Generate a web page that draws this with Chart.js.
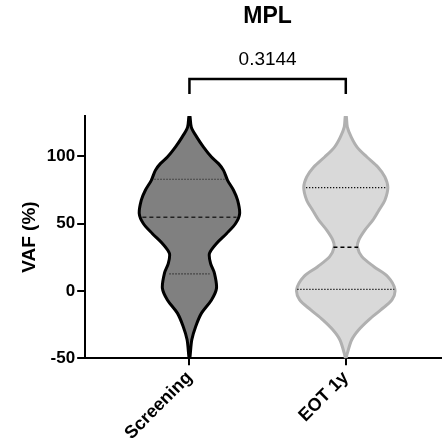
<!DOCTYPE html>
<html>
<head>
<meta charset="utf-8">
<script src="https://cdn.jsdelivr.net/npm/chart.js@4.4.1/dist/chart.umd.min.js"></script>
<style>
  html, body { margin: 0; padding: 0; background: #fff; }
  #wrap { width: 442px; height: 448px; }
</style>
</head>
<body>
<div id="wrap"><canvas id="violinChart"></canvas></div>
<script>
/* MPL violin plot: VAF (%) at screening vs end of treatment */

const categories = ['Screening', 'EOT 1y'];
const yTicks = [-50, 0, 50, 100];
const chartTitle = 'MPL';
const pValue = '0.3144';

// density outline, top to bottom: VAF level and half-width (in category units)
const screeningLevels = [130, 121.7, 114.3, 106.9, 99.5, 94.6, 89.6, 82.2, 74.8, 67.4, 57.5, 50.1, 42.7, 35.3, 27.9, 20.5, 13.1, 2.0, -6.7, -16.5, -26.4, -36.3, -48.6, -50];
const screeningWidths = [0.003, 0.012, 0.047, 0.090, 0.141, 0.186, 0.218, 0.244, 0.282, 0.308, 0.321, 0.295, 0.238, 0.173, 0.128, 0.135, 0.160, 0.173, 0.141, 0.077, 0.040, 0.015, 0.004, 0.002];

const eotLevels = [130, 121.7, 114.3, 106.9, 99.5, 92.1, 84.7, 76.8, 67.4, 60.0, 52.6, 45.2, 37.8, 32.4, 25.5, 18.0, 10.6, 1.2, -6.7, -14.1, -21.5, -28.9, -36.3, -46.2, -50];
const eotWidths = [0.003, 0.010, 0.035, 0.072, 0.135, 0.205, 0.250, 0.269, 0.250, 0.212, 0.173, 0.122, 0.083, 0.075, 0.103, 0.180, 0.269, 0.314, 0.295, 0.224, 0.147, 0.083, 0.038, 0.010, 0.002];

// quartiles (Q1, median, Q3) and the width of their lines
const screeningQuartiles = [12.6, 54.8, 83.0];
const screeningQuartileWidths = [0.128, 0.301, 0.224];
const eotQuartiles = [1.2, 32.4, 76.8];
const eotQuartileWidths = [0.310, 0.079, 0.254];

function outline(center, levels, widths) {
  const pts = [];
  for (let i = levels.length - 1; i >= 0; i--) pts.push({ x: center + widths[i], y: levels[i] });
  for (let i = 0; i < levels.length; i++) pts.push({ x: center - widths[i], y: levels[i] });
  pts.push(pts[0]);
  return pts;
}

function quartileSets(center, quartiles, widths, color) {
  return quartiles.map((q, i) => ({
    data: [{ x: center - widths[i], y: q }, { x: center + widths[i], y: q }],
    borderColor: color,
    borderWidth: i === 1 ? 1.5 : 1.2,
    borderDash: i === 1 ? [4, 3] : [1.2, 1.8],
    pointRadius: 0,
    fill: false,
    order: 1
  }));
}

const FONT = 'Arial, "Liberation Sans", Helvetica, sans-serif';

const datasets = [
  {
    data: outline(0, screeningLevels, screeningWidths),
    borderColor: '#000000',
    backgroundColor: '#808080',
    borderWidth: 3,
    tension: 0.3,
    pointRadius: 0,
    fill: 'shape',
    order: 2
  },
  {
    data: outline(1, eotLevels, eotWidths),
    borderColor: '#b0b0b0',
    backgroundColor: '#d9d9d9',
    borderWidth: 3,
    tension: 0.3,
    pointRadius: 0,
    fill: 'shape',
    order: 2
  },
  ...quartileSets(0, screeningQuartiles, screeningQuartileWidths, '#222222'),
  ...quartileSets(1, eotQuartiles, eotQuartileWidths, '#000000')
];

/* title + significance bracket, centred over the two groups */
const bracketPlugin = {
  id: 'bracket',
  afterDraw(chart) {
    const { ctx, chartArea, scales: { x } } = chart;
    const x0 = x.getPixelForValue(0);
    const x1 = x.getPixelForValue(1);
    const mid = (x0 + x1) / 2;
    const yBar = chartArea.top - 37;
    const yLeg = chartArea.top - 22;
    ctx.save();
    ctx.strokeStyle = '#000';
    ctx.lineWidth = 2.5;
    ctx.beginPath();
    ctx.moveTo(x0, yLeg);
    ctx.lineTo(x0, yBar);
    ctx.lineTo(x1, yBar);
    ctx.lineTo(x1, yLeg);
    ctx.stroke();
    ctx.fillStyle = '#000';
    ctx.textAlign = 'center';
    ctx.textBaseline = 'middle';
    ctx.font = '19px ' + FONT;
    ctx.fillText(pValue, mid, chartArea.top - 56);
    ctx.font = 'bold 23px ' + FONT;
    ctx.fillText(chartTitle, mid, chartArea.top - 99);
    ctx.restore();
  }
};

new Chart(document.getElementById('violinChart'), {
  type: 'line',
  data: { datasets },
  options: {
    responsive: true,
    maintainAspectRatio: false,
    animation: false,
    layout: { padding: { top: 116, right: 1, left: 18, bottom: 2 } },
    plugins: {
      legend: { display: false },
      tooltip: { enabled: false },
      title: { display: false }
    },
    scales: {
      x: {
        type: 'linear',
        min: -0.667,
        max: 1.609,
        afterBuildTicks: axis => { axis.ticks = categories.map((_, i) => ({ value: i })); },
        ticks: {
          autoSkip: false,
          minRotation: 45,
          maxRotation: 45,
          color: '#000',
          padding: 2,
          font: { family: FONT, size: 18, weight: 'bold' },
          callback: v => categories[v]
        },
        grid: { display: true, drawOnChartArea: false, drawTicks: true, tickLength: 7, color: '#000', lineWidth: 2 },
        border: { display: true, color: '#000', width: 2 }
      },
      y: {
        min: -50,
        max: 130,
        afterBuildTicks: axis => { axis.ticks = yTicks.map(v => ({ value: v })); },
        ticks: {
          color: '#000',
          padding: 2,
          font: { family: FONT, size: 17, weight: 'bold' }
        },
        title: {
          display: true,
          text: 'VAF (%)',
          color: '#000',
          padding: { top: 0, bottom: 4 },
          font: { family: FONT, size: 19, weight: 'bold' }
        },
        grid: { display: true, drawOnChartArea: false, drawTicks: true, tickLength: 8, color: '#000', lineWidth: 2 },
        border: { display: true, color: '#000', width: 2 }
      }
    }
  },
  plugins: [bracketPlugin]
});
</script>
</body>
</html>
